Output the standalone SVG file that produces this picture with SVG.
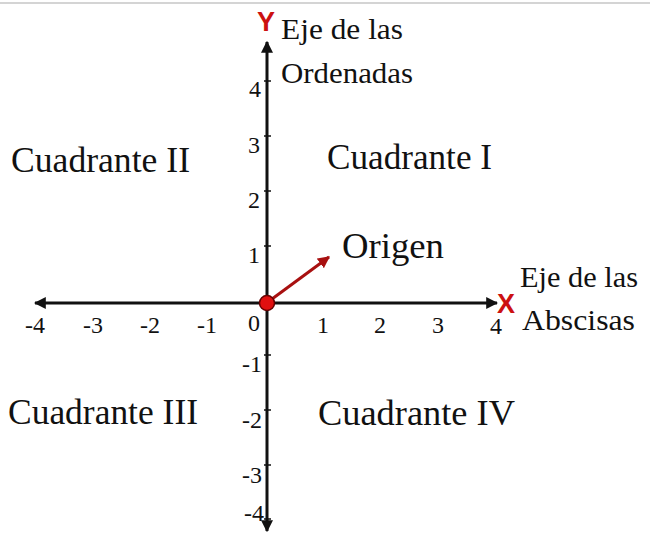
<svg xmlns="http://www.w3.org/2000/svg" width="650" height="533" viewBox="0 0 650 533">
<style>
.t{font-family:"Liberation Serif","Times New Roman",serif;fill:#111}
.q{font-size:35px}
.n{font-size:24px}
.ax{font-size:29px}
.lbl{font-family:"Liberation Sans",Arial,sans-serif;font-weight:bold;fill:#cc1111;font-size:27px}
.axis{stroke:#111;stroke-width:3;fill:none}
.tick{stroke:#111;stroke-width:1.5}
</style>
<defs>
<marker id="ah" viewBox="0 0 10 10" refX="9" refY="5" markerWidth="4" markerHeight="4" orient="auto" markerUnits="strokeWidth">
<path d="M0,0 L10,5 L0,10 Z" fill="#111"/>
</marker>
<marker id="ahr" viewBox="0 0 10 10" refX="9" refY="5" markerWidth="4" markerHeight="4" orient="auto" markerUnits="strokeWidth">
<path d="M0,0 L10,5 L0,10 Z" fill="#a81010"/>
</marker>
</defs>
<rect width="650" height="533" fill="#fff"/>
<line x1="0" y1="3" x2="650" y2="3" stroke="#d4d4d4" stroke-width="2"/>
<g id="connectors">
<line class="axis" x1="267" y1="303" x2="267" y2="42" marker-end="url(#ah)"/>
<line class="axis" x1="267" y1="303" x2="267" y2="531" marker-end="url(#ah)"/>
<line class="axis" x1="267" y1="303" x2="35" y2="303" marker-end="url(#ah)"/>
<line class="axis" x1="267" y1="303" x2="497" y2="303" marker-end="url(#ah)"/>
<line x1="272" y1="299" x2="329" y2="257" stroke="#a81010" stroke-width="3" marker-end="url(#ahr)"/>
<g id="yticks">
<line class="tick" x1="264" y1="81" x2="271" y2="81"/>
<line class="tick" x1="264" y1="136" x2="271" y2="136"/>
<line class="tick" x1="264" y1="191" x2="271" y2="191"/>
<line class="tick" x1="264" y1="246" x2="271" y2="246"/>
<line class="tick" x1="264" y1="355" x2="271" y2="355"/>
<line class="tick" x1="264" y1="410" x2="271" y2="410"/>
<line class="tick" x1="264" y1="465" x2="271" y2="465"/>
<line class="tick" x1="264" y1="519" x2="271" y2="519"/>
</g>
</g>
<g id="origin">
<circle cx="267" cy="303" r="7.5" fill="#e01010" stroke="#600" stroke-width="1.5"/>
</g>
<g id="x-labels" class="t n" text-anchor="middle">
<text x="35" y="333">-4</text>
<text x="93" y="333">-3</text>
<text x="150" y="333">-2</text>
<text x="207" y="333">-1</text>
<text x="254" y="331">0</text>
<text x="323" y="333">1</text>
<text x="380" y="333">2</text>
<text x="438" y="333">3</text>
<text x="496" y="334">4</text>
</g>
<g id="y-labels" class="t n" text-anchor="end">
<text x="261" y="97">4</text>
<text x="260" y="153">3</text>
<text x="260" y="208">2</text>
<text x="260" y="263">1</text>
<text x="262" y="372">-1</text>
<text x="262" y="428">-2</text>
<text x="262" y="483">-3</text>
<text x="264" y="521">-4</text>
</g>
<g id="y-title">
<text class="lbl" x="266" y="31" text-anchor="middle">Y</text>
<text class="t ax" x="281" y="39" textLength="122" lengthAdjust="spacingAndGlyphs">Eje de las</text>
<text class="t ax" x="281" y="83" textLength="132" lengthAdjust="spacingAndGlyphs">Ordenadas</text>
</g>
<g id="x-title">
<text class="lbl" x="506" y="313" text-anchor="middle">X</text>
<text class="t ax" x="520" y="287" textLength="118" lengthAdjust="spacingAndGlyphs">Eje de las</text>
<text class="t ax" x="522" y="330" textLength="113" lengthAdjust="spacingAndGlyphs">Abscisas</text>
</g>
<g id="q1"><text class="t q" x="327" y="169" textLength="165" lengthAdjust="spacingAndGlyphs">Cuadrante I</text></g>
<g id="q2"><text class="t q" x="11" y="172" textLength="179" lengthAdjust="spacingAndGlyphs">Cuadrante II</text></g>
<g id="q3"><text class="t q" x="8" y="424" textLength="190" lengthAdjust="spacingAndGlyphs">Cuadrante III</text></g>
<g id="q4"><text class="t q" x="318" y="425" textLength="197" lengthAdjust="spacingAndGlyphs">Cuadrante IV</text></g>
<g id="origin-label"><text class="t q" x="342" y="258" textLength="102" lengthAdjust="spacingAndGlyphs">Origen</text></g>
</svg>
